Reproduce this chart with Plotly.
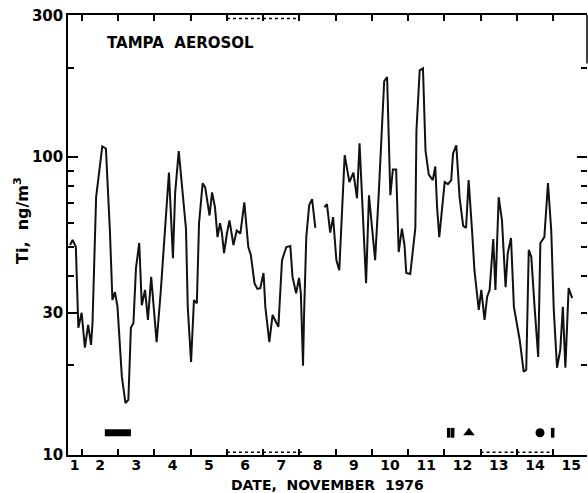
import plotly.graph_objects as go

# ---- data (day of November 1976, Ti in ng/m3) ----
days = [1.67, 1.74, 1.83, 1.90, 1.99, 2.08, 2.17, 2.25, 2.29, 2.39, 2.56, 2.66, 2.77, 2.84, 2.91, 2.98,
        3.10, 3.20, 3.28, 3.35, 3.42, 3.49, 3.58, 3.65, 3.74, 3.82, 3.91, 3.97, 4.06, 4.17, 4.29, 4.40,
        4.51, 4.57, 4.67, 4.78, 4.87, 4.92, 5.01, 5.09, 5.17, 5.23, 5.33, 5.40, 5.52, 5.59, 5.67, 5.74,
        5.81, 5.86, 5.92, 6.00, 6.07, 6.18, 6.27, 6.37, 6.48, 6.59, 6.66, 6.76, 6.84, 6.92, 7.01, 7.06,
        7.17, 7.26, 7.42, 7.52, 7.64, 7.75, 7.81, 7.91, 7.99, 8.04, 8.10, 8.13, 8.19, 8.27, 8.35, 8.44,
        8.56,
        8.69, 8.76, 8.85, 8.93, 9.02, 9.10, 9.25, 9.38, 9.49, 9.59, 9.66, 9.73, 9.84, 9.92, 10.01, 10.09,
        10.19, 10.28, 10.34, 10.42, 10.46, 10.51, 10.58, 10.67, 10.74, 10.83, 10.90, 10.95, 11.06, 11.20,
        11.23, 11.32, 11.41, 11.48, 11.57, 11.68, 11.75, 11.80, 11.86, 11.94, 12.01, 12.10, 12.19, 12.24,
        12.33, 12.42, 12.52, 12.60, 12.67, 12.77, 12.83, 12.95, 13.02, 13.11, 13.18, 13.25, 13.35, 13.41,
        13.50, 13.59, 13.69, 13.75, 13.84, 13.92, 14.08, 14.19, 14.26, 14.33, 14.40, 14.49, 14.59, 14.65,
        14.76, 14.86, 14.95, 15.02, 15.11, 15.20, 15.27, 15.34, 15.43, 15.53]
ti = [50.7, 52.7, 50.0, 26.7, 30.0, 22.9, 27.3, 23.4, 27.7, 73.4, 108.8, 107.0, 56.7, 33.1, 35.2, 31.4,
      18.3, 14.9, 15.3, 26.7, 27.7, 42.4, 51.5, 31.8, 35.8, 28.4, 39.6, 33.1, 23.9, 34.9, 55.4, 88.8,
      45.8, 75.6, 104.8, 75.6, 57.5, 31.2, 20.5, 33.1, 32.3, 60.0, 81.8, 79.2, 63.7, 76.2, 67.9, 53.9,
      60.0, 55.8, 47.6, 55.4, 61.3, 50.7, 56.7, 55.4, 70.5, 49.9, 46.9, 37.7, 36.1, 36.3, 40.8, 31.4,
      23.9, 29.5, 26.9, 45.1, 49.9, 50.3, 39.6, 34.9, 39.3, 34.9, 19.9, 30.0, 53.9, 69.0, 72.3, 57.9,
      None,
      67.9, 69.5, 55.8, 62.9, 45.1, 41.7, 101.6, 82.5, 88.8, 72.8, 111.4, 75.6, 37.7, 74.5, 57.9, 45.1,
      75.6, 123.0, 180.0, 186.0, 111.4, 74.5, 91.0, 91.0, 48.0, 57.5, 50.7, 40.8, 40.5, 57.9,
      123.0, 196.0, 199.0, 105.5, 87.4, 83.8, 93.1, 67.9, 53.9, 67.9, 82.5, 81.2, 83.8, 103.0,
      109.6, 73.4, 58.8, 57.9, 83.8, 55.4, 41.7, 30.7, 35.8, 28.4, 33.9, 35.8, 53.1, 35.8,
      73.4, 61.3, 36.6, 47.6, 53.5, 31.4, 24.3, 19.0, 19.3, 48.8, 46.2, 31.4, 21.3, 51.5,
      53.9, 81.8, 56.7, 30.7, 19.6, 22.5, 31.4, 19.6, 36.3, 33.6]

# event symbols along the bottom
symbol_level = 11.85
bar_days = [2.63, 3.35]
square_days = [12.12, 12.23, 14.99]
triangle_days = [12.68]
circle_days = [14.64]

# dotted period indicators
bottom_periods = [(6.0, 8.08), (13.0, 15.0)]
top_periods = [(6.0, 8.0)]

# axis ticks / labels
day_ticks = list(range(2, 16))
day_label_pos = [1.8] + [d + 0.5 for d in range(2, 16)]
day_labels = [str(d) for d in range(1, 16)]
y_major = [10, 30, 100, 300]
y_minor = [20, 40, 50, 60, 70, 80, 90, 200]

FONT = "DejaVu Sans"
x_range = [1.614, 15.937]
y_range = [0.999, 2.4781]

fig = go.Figure()

fig.add_trace(go.Scatter(x=days, y=ti, mode="lines", line=dict(color="#111", width=2),
                         connectgaps=False, showlegend=False, hoverinfo="skip"))

fig.add_trace(go.Scatter(x=bar_days, y=[symbol_level] * len(bar_days), mode="lines",
                         line=dict(color="black", width=7), showlegend=False, hoverinfo="skip"))
fig.add_trace(go.Scatter(x=square_days, y=[symbol_level] * len(square_days), mode="markers",
                         marker=dict(symbol="line-ns", size=7, line=dict(color="black", width=3.5)),
                         showlegend=False, hoverinfo="skip"))
fig.add_trace(go.Scatter(x=triangle_days, y=[symbol_level] * len(triangle_days), mode="markers",
                         marker=dict(symbol="triangle-up", size=10, color="black"),
                         showlegend=False, hoverinfo="skip"))
fig.add_trace(go.Scatter(x=circle_days, y=[symbol_level] * len(circle_days), mode="markers",
                         marker=dict(symbol="circle", size=9, color="black"),
                         showlegend=False, hoverinfo="skip"))

# invisible traces to activate helper axes
fig.add_trace(go.Scatter(x=[8], y=[20], xaxis="x2", yaxis="y", mode="markers",
                         marker=dict(opacity=0), showlegend=False, hoverinfo="skip"))
fig.add_trace(go.Scatter(x=[8], y=[20], xaxis="x", yaxis="y2", mode="markers",
                         marker=dict(opacity=0), showlegend=False, hoverinfo="skip"))

for a, b in bottom_periods:
    fig.add_shape(type="line", xref="x", yref="paper", x0=a, x1=b, y0=0.006, y1=0.006,
                  line=dict(color="black", width=1.5, dash="dot"))
for a, b in top_periods:
    fig.add_shape(type="line", xref="x", yref="paper", x0=a, x1=b, y0=0.992, y1=0.992,
                  line=dict(color="black", width=1.5, dash="dot"))
fig.add_shape(type="line", xref="paper", yref="paper", x0=1, x1=1, y0=0.89, y1=1,
              line=dict(color="black", width=1.5))

BOLD = dict(family=FONT, color="black", weight="bold")

fig.update_layout(
    width=588, height=493,
    margin=dict(l=68, r=1, t=15, b=38),
    paper_bgcolor="white", plot_bgcolor="white",
    font=dict(family=FONT, color="black", size=14),
    xaxis=dict(range=x_range, tickmode="array", tickvals=day_ticks, showticklabels=False,
               ticks="inside", ticklen=6, tickwidth=1.5, tickcolor="black",
               showline=True, linecolor="black", linewidth=1.5, mirror="ticks",
               showgrid=False, zeroline=False),
    xaxis2=dict(range=x_range, overlaying="x", anchor="y", side="bottom",
                tickmode="array", tickvals=day_label_pos, ticktext=day_labels,
                ticks="", showline=False, showgrid=False, zeroline=False,
                tickfont=dict(size=14, **BOLD)),
    yaxis=dict(type="log", range=y_range, tickmode="array", tickvals=y_major,
               ticktext=[str(v) for v in y_major],
               ticks="inside", ticklen=10, tickwidth=1.5, tickcolor="black",
               minor=dict(tickmode="array", tickvals=y_minor, ticks="inside", ticklen=6,
                          tickwidth=1.5, tickcolor="black", showgrid=False),
               showline=True, linecolor="black", linewidth=1.5,
               showgrid=False, zeroline=False,
               tickfont=dict(size=15, **BOLD)),
    yaxis2=dict(type="log", range=y_range, overlaying="y", anchor="x", side="right",
                tickmode="array", tickvals=[100], showticklabels=False,
                ticks="inside", ticklen=10, tickwidth=1.5, tickcolor="black",
                minor=dict(tickmode="array", tickvals=[20, 30, 40, 50, 60, 70, 80, 90, 200],
                           ticks="inside", ticklen=6, tickwidth=1.5, tickcolor="black",
                           showgrid=False),
                showline=False, showgrid=False, zeroline=False),
    annotations=[
        dict(text="TAMPA\u00a0\u00a0AEROSOL", xref="paper", yref="paper", x=0.071, y=0.936,
             xanchor="left", yanchor="middle", showarrow=False,
             font=dict(size=15, **BOLD)),
        dict(text="DATE,  NOVEMBER  1976", xref="paper", yref="paper", x=0.5, y=-0.068,
             xanchor="center", yanchor="middle", showarrow=False,
             font=dict(size=14, **BOLD)),
        dict(text="Ti,  ng/m<sup>3</sup>", xref="paper", yref="paper", x=-0.0886, y=0.532,
             xanchor="center", yanchor="middle", textangle=-90, showarrow=False,
             font=dict(size=16, **BOLD)),
    ],
)

fig.write_html("out.html")
